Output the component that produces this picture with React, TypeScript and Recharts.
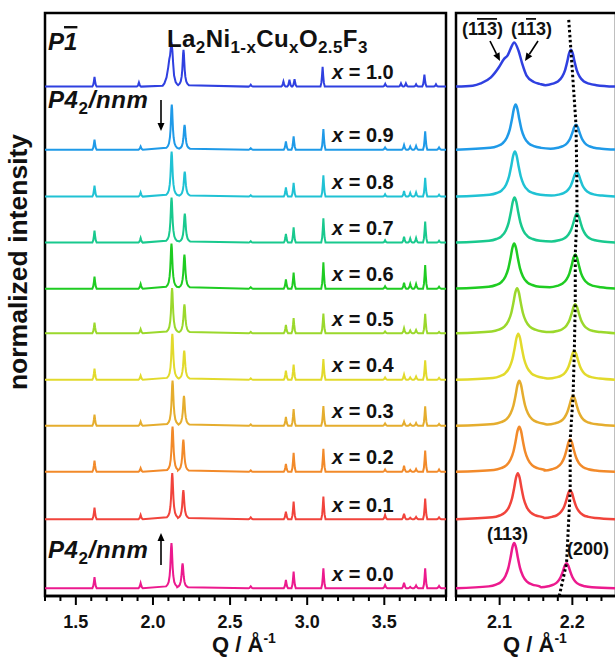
import * as React from 'react'
import { LineChart, Line, XAxis, YAxis, ReferenceDot, ReferenceArea } from 'recharts'

// stacked diffraction patterns La2Ni1-xCuxO2.5F3, top (x=1.0) to bottom (x=0.0)
const COMPOSITIONS = ['1.0', '0.9', '0.8', '0.7', '0.6', '0.5', '0.4', '0.3', '0.2', '0.1', '0.0']
const COLORS = [
  '#2f40e0', '#1f9ae8', '#20c2d4', '#19c98e', '#1fcc22', '#9bd82c',
  '#e2da2c', '#e5ad2e', '#f28a2a', '#f1443c', '#ec1a8e'
]
// vertical offset of each pattern (normalized intensity units)
const OFFSETS = [11.07, 9.7, 8.68, 7.68, 6.68, 5.71, 4.7, 3.7, 2.7, 1.67, 0.17]

// (113) and (200) reflections
const Q113 = [2.12, 2.122, 2.121, 2.1205, 2.12, 2.124, 2.1256, 2.127, 2.127, 2.125, 2.12]
const H113 = [0.96, 0.98, 0.98, 0.98, 0.98, 0.98, 1.0, 0.98, 0.98, 1.0, 0.98]
const Q200 = [2.198, 2.205, 2.206, 2.2064, 2.204, 2.204, 2.2027, 2.201, 2.197, 2.197, 2.192]
const H200 = [0.8, 0.54, 0.54, 0.63, 0.74, 0.63, 0.63, 0.65, 0.7, 0.63, 0.54]

// x = 1.0 (P-1): split (1-1-3)/(1-13) peak read point by point
const SPLIT_Q = [2.063, 2.074, 2.088, 2.099, 2.106, 2.111, 2.115, 2.12, 2.126, 2.131, 2.137, 2.147, 2.155]
const SPLIT_H = [0.02, 0.07, 0.2, 0.42, 0.6, 0.68, 0.82, 0.96, 0.78, 0.5, 0.24, 0.1, 0.06]

// x = 1.0 minor reflections
const TRI_Q = [1.621, 1.909, 2.634, 2.846, 2.885, 2.918, 3.1, 3.506, 3.608, 3.64, 3.706, 3.76, 3.835]
const TRI_H = [0.21, 0.09, 0.04, 0.11, 0.15, 0.16, 0.43, 0.06, 0.07, 0.07, 0.05, 0.26, 0.05]

// P4_2/nnm minor reflections, rows x = 0.9 ... 0.0
const TET_Q = [1.621, 1.92, 2.634, 2.862, 2.912, 3.105, 3.505, 3.628, 3.668, 3.706, 3.765, 3.855]
const TET_H = [
  [0.22, 0.07, 0.03, 0.18, 0.29, 0.45, 0.05, 0.1, 0.07, 0.08, 0.4, 0.05],
  [0.24, 0.09, 0.03, 0.2, 0.3, 0.46, 0.05, 0.12, 0.08, 0.09, 0.41, 0.04],
  [0.26, 0.1, 0.03, 0.19, 0.33, 0.53, 0.05, 0.13, 0.09, 0.1, 0.46, 0.04],
  [0.26, 0.1, 0.03, 0.2, 0.35, 0.57, 0.05, 0.13, 0.1, 0.1, 0.51, 0.04],
  [0.23, 0.09, 0.03, 0.18, 0.33, 0.43, 0.04, 0.11, 0.06, 0.07, 0.42, 0.03],
  [0.24, 0.09, 0.03, 0.2, 0.33, 0.45, 0.05, 0.11, 0.05, 0.07, 0.42, 0.04],
  [0.24, 0.09, 0.03, 0.19, 0.36, 0.43, 0.05, 0.09, 0.04, 0.06, 0.42, 0.04],
  [0.24, 0.08, 0.03, 0.17, 0.41, 0.5, 0.05, 0.13, 0.04, 0.06, 0.46, 0.05],
  [0.25, 0.09, 0.04, 0.16, 0.38, 0.49, 0.09, 0.12, 0.03, 0.05, 0.45, 0.04],
  [0.24, 0.11, 0.04, 0.18, 0.36, 0.43, 0.07, 0.12, 0.03, 0.06, 0.43, 0.05]
]

// peak shapes (offset from centre, relative height)
const WIDE_DQ = [-0.035, -0.025, -0.018, -0.012, -0.008, -0.005, -0.0025, 0, 0.0025, 0.005, 0.008, 0.012, 0.018, 0.025, 0.035]
const WIDE_P = [0.04, 0.08, 0.14, 0.27, 0.45, 0.68, 0.9, 1, 0.9, 0.68, 0.45, 0.27, 0.14, 0.08, 0.04]
const NARROW_DQ = [-0.014, -0.008, -0.004, 0, 0.004, 0.008, 0.014]
const NARROW_P = [0, 0.2, 0.55, 1, 0.55, 0.2, 0]

// dotted guide through the (200) maxima
const GUIDE_TOP = { q: 2.195, y: 12.52 }
const GUIDE_BOTTOM = { q: 2.182, y: 0 }

const LEFT_DOMAIN: [number, number] = [1.3, 3.9]
const LEFT_TICKS = [1.3, 1.4, 1.5, 1.6, 1.7, 1.8, 1.9, 2.0, 2.1, 2.2, 2.3, 2.4, 2.5, 2.6, 2.7, 2.8, 2.9, 3.0, 3.1, 3.2, 3.3, 3.4, 3.5, 3.6, 3.7, 3.8, 3.9]
const LEFT_MAJOR = [1.5, 2.0, 2.5, 3.0, 3.5]
const RIGHT_DOMAIN: [number, number] = [2.04, 2.26]
const RIGHT_TICKS = [2.04, 2.06, 2.08, 2.1, 2.12, 2.14, 2.16, 2.18, 2.2, 2.22, 2.24, 2.26]
const RIGHT_MAJOR = [2.1, 2.2]
const Y_DOMAIN: [number, number] = [0, 12.67]

const FONT = '"Liberation Sans", Arial, Helvetica, sans-serif'

type Pt = { q: number; y: number }

function peak(q0: number, h: number, dq: number[], shape: number[]): Pt[] {
  return dq.map((d, k) => ({ q: q0 + d, y: h * shape[k] }))
}

function pattern(i: number, [lo, hi]: [number, number]): Pt[] {
  const pts: Pt[] = []
  if (i === 0) {
    SPLIT_Q.forEach((q, k) => pts.push({ q, y: SPLIT_H[k] }))
    TRI_Q.forEach((q, k) => pts.push(...peak(q, TRI_H[k], NARROW_DQ, NARROW_P)))
  } else {
    pts.push(...peak(Q113[i], H113[i], WIDE_DQ, WIDE_P))
    TET_Q.forEach((q, k) => pts.push(...peak(q, TET_H[i - 1][k], NARROW_DQ, NARROW_P)))
  }
  pts.push(...peak(Q200[i], H200[i], WIDE_DQ, WIDE_P))
  const inside = pts.filter((p) => p.q > lo && p.q < hi).sort((a, b) => a.q - b.q)
  return [{ q: lo, y: 0 }, ...inside, { q: hi, y: 0 }].map((p) => ({ q: p.q, y: p.y + OFFSETS[i] }))
}

const guide: Pt[] = [
  GUIDE_TOP,
  ...Q200.map((q, i) => ({ q, y: OFFSETS[i] + H200[i] })),
  GUIDE_BOTTOM
]

function makeTick(majors: number[]) {
  return function Tick(props: any): React.JSX.Element {
    const { x, y, payload } = props
    const v = Number(payload.value)
    const major = majors.some((m) => Math.abs(m - v) < 1e-6)
    return (
      <g>
        <line x1={x} x2={x} y1={y} y2={y + (major ? 9 : 5)} stroke="#000" strokeWidth={2} />
        {major && (
          <text x={x} y={y + 32} textAnchor="middle" fontSize={18} fontWeight="bold" fontFamily={FONT} fill="#111">
            {v.toFixed(1)}
          </text>
        )}
      </g>
    )
  }
}

function SeriesLabel(props: any): React.JSX.Element {
  const { cx, cy, text } = props
  return (
    <text x={cx} y={cy} fontSize={20} fontWeight="bold" fontFamily={FONT} fill="#111">
      <tspan fontStyle="italic">x</tspan> = {text}
    </text>
  )
}

function LeftPanel(): React.JSX.Element {
  return (
    <LineChart width={460} height={660} margin={{ top: 13, right: 14, bottom: 0, left: 45 }}>
      <XAxis
        type="number"
        dataKey="q"
        domain={LEFT_DOMAIN}
        allowDataOverflow
        ticks={LEFT_TICKS}
        interval={0}
        height={64}
        tickSize={0}
        tickMargin={0}
        tickLine={false}
        axisLine={{ stroke: '#000', strokeWidth: 2.5 }}
        tick={makeTick(LEFT_MAJOR)}
      />
      <YAxis type="number" hide domain={Y_DOMAIN} allowDataOverflow />
      <ReferenceArea x1={LEFT_DOMAIN[0]} x2={LEFT_DOMAIN[1]} y1={Y_DOMAIN[0]} y2={Y_DOMAIN[1]} fill="none" stroke="#000" strokeWidth={2.5} />
      {COMPOSITIONS.map((c, i) => (
        <Line
          key={c}
          data={pattern(i, LEFT_DOMAIN)}
          dataKey="y"
          type="linear"
          stroke={COLORS[i]}
          strokeWidth={2}
          dot={false}
          isAnimationActive={false}
        />
      ))}
      {COMPOSITIONS.map((c, i) => (
        <ReferenceDot
          key={'l' + c}
          x={3.161}
          y={OFFSETS[i] + 0.16}
          r={0}
          shape={(p: any) => <SeriesLabel {...p} text={c} />}
        />
      ))}
    </LineChart>
  )
}

function RightPanel(): React.JSX.Element {
  return (
    <LineChart width={200} height={660} margin={{ top: 13, right: 24, bottom: 0, left: 16 }}>
      <XAxis
        type="number"
        dataKey="q"
        domain={RIGHT_DOMAIN}
        allowDataOverflow
        ticks={RIGHT_TICKS}
        interval={0}
        height={64}
        tickSize={0}
        tickMargin={0}
        tickLine={false}
        axisLine={{ stroke: '#000', strokeWidth: 2.5 }}
        tick={makeTick(RIGHT_MAJOR)}
      />
      <YAxis type="number" hide domain={Y_DOMAIN} allowDataOverflow />
      <ReferenceArea x1={RIGHT_DOMAIN[0]} x2={RIGHT_DOMAIN[1]} y1={Y_DOMAIN[0]} y2={Y_DOMAIN[1]} fill="none" stroke="#000" strokeWidth={2.5} />
      {COMPOSITIONS.map((c, i) => (
        <Line
          key={c}
          data={pattern(i, RIGHT_DOMAIN)}
          dataKey="y"
          type="monotone"
          stroke={COLORS[i]}
          strokeWidth={2.5}
          dot={false}
          isAnimationActive={false}
        />
      ))}
      <Line
        data={guide}
        dataKey="y"
        type="linear"
        stroke="#000"
        strokeWidth={3}
        strokeDasharray="2.5 2.5"
        dot={false}
        isAnimationActive={false}
      />
    </LineChart>
  )
}

function Arrow({ x1, y1, x2, y2 }: { x1: number; y1: number; x2: number; y2: number }): React.JSX.Element {
  const a = Math.atan2(y2 - y1, x2 - x1)
  const len = 8
  const w = 3.5
  const bx = x2 - len * Math.cos(a)
  const by = y2 - len * Math.sin(a)
  const px = -Math.sin(a) * w
  const py = Math.cos(a) * w
  return (
    <g>
      <line x1={x1} y1={y1} x2={bx} y2={by} stroke="#000" strokeWidth={1.6} />
      <polygon points={`${x2},${y2} ${bx + px},${by + py} ${bx - px},${by - py}`} fill="#000" />
    </g>
  )
}

function Annotations(): React.JSX.Element {
  const sub = { fontSize: 17 }
  return (
    <svg width={615} height={660} style={{ position: 'absolute', left: 0, top: 0, pointerEvents: 'none' }} fontFamily={FONT} fill="#111" fontWeight="bold">
      <text x={48} y={50} fontSize={24} fontStyle="italic">
        P<tspan style={{ textDecoration: 'overline' }}>1</tspan>
      </text>
      <text x={167} y={47} fontSize={24} letterSpacing={0.4}>
        La<tspan {...sub} dy={6}>2</tspan>
        <tspan dy={-6}>Ni</tspan>
        <tspan {...sub} dy={6}>1-x</tspan>
        <tspan dy={-6}>Cu</tspan>
        <tspan {...sub} dy={6}>x</tspan>
        <tspan dy={-6}>O</tspan>
        <tspan {...sub} dy={6}>2.5</tspan>
        <tspan dy={-6}>F</tspan>
        <tspan {...sub} dy={6}>3</tspan>
      </text>
      <text x={48} y={108} fontSize={24} fontStyle="italic" letterSpacing={0.6}>
        P4<tspan fontSize={17} dy={6} fontStyle="normal">2</tspan>
        <tspan dy={-6}>/nnm</tspan>
      </text>
      <Arrow x1={161} y1={100} x2={161} y2={131} />
      <text x={48} y={558} fontSize={24} fontStyle="italic" letterSpacing={0.6}>
        P4<tspan fontSize={17} dy={6} fontStyle="normal">2</tspan>
        <tspan dy={-6}>/nnm</tspan>
      </text>
      <Arrow x1={161} y1={565} x2={161} y2={533} />

      <text x={462} y={35} fontSize={18}>
        (1<tspan style={{ textDecoration: 'overline' }}>13</tspan>)
      </text>
      <text x={511} y={35} fontSize={18}>
        (1<tspan style={{ textDecoration: 'overline' }}>1</tspan>3)
      </text>
      <Arrow x1={490} y1={41} x2={500} y2={61} />
      <Arrow x1={538} y1={41} x2={525} y2={61} />
      <text x={487} y={540} fontSize={18}>(113)</text>
      <text x={567} y={555} fontSize={18}>(200)</text>

      <text x={244} y={652} fontSize={22} textAnchor="middle">
        Q / Å<tspan fontSize={14} dy={-9}>-1</tspan>
      </text>
      <text x={535} y={652} fontSize={22} textAnchor="middle">
        Q / Å<tspan fontSize={14} dy={-9}>-1</tspan>
      </text>
      <text transform="translate(27,262) rotate(-90)" fontSize={26.5} textAnchor="middle">
        normalized intensity
      </text>
    </svg>
  )
}

export default function App(): React.JSX.Element {
  return (
    <div style={{ position: 'fixed', left: 0, top: 0, width: 615, height: 660, overflow: 'hidden', background: '#fff', fontFamily: FONT }}>
      <div style={{ position: 'absolute', left: 0, top: 0 }}>
        <LeftPanel />
      </div>
      <div style={{ position: 'absolute', left: 440, top: 0 }}>
        <RightPanel />
      </div>
      <Annotations />
    </div>
  )
}
